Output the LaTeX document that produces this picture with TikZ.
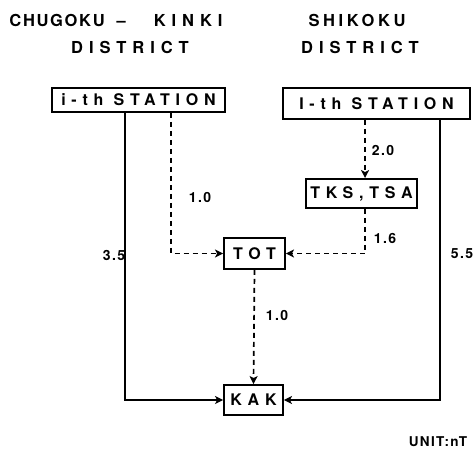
\documentclass[tikz,border=0pt]{standalone}
\usepackage{fontspec}
\setmainfont{TeX Gyre Heros}
\newfontfamily\spaced[LetterSpace=36]{TeX Gyre Heros}
\newfontfamily\midspaced[LetterSpace=22]{TeX Gyre Heros}
\newfontfamily\wide[LetterSpace=10]{TeX Gyre Heros}
\usetikzlibrary{arrows.meta}

\begin{document}
\begin{tikzpicture}[
  x=1pt, y=-1pt,
  heading/.style={font=\spaced\bfseries\fontsize{16.5}{19}\selectfont, inner sep=0pt},
  box/.style={draw, line width=1.9pt, inner sep=0pt, font=\spaced\bfseries\fontsize{16}{19}\selectfont},
  flow/.style={-{Stealth[length=8pt, width=8pt, inset=2pt]}, line width=1.3pt},
  dflow/.style={flow, line width=1.7pt, dash pattern=on 5pt off 4pt},
  value/.style={font=\wide\bfseries\fontsize{14}{16}\selectfont, inner sep=0pt}
]
  \useasboundingbox (0,0) rectangle (473,453);

  % district headings
  \node[heading, font=\wide\bfseries\fontsize{16.5}{19}\selectfont] (chugoku) at (116,20)
    {CHUGOKU\hspace{12pt}–\hspace{28pt}{\spaced KINKI}};
  \node[heading] (chugokud) at (130,47) {DISTRICT};
  \node[heading, font=\midspaced\bfseries\fontsize{16.5}{19}\selectfont] (shikoku) at (357,20) {SHIKOKU};
  \node[heading] (shikokud) at (360,47) {DISTRICT};

  % stations
  \node[box, minimum width=173pt, minimum height=24pt] (stleft) at (138.5,100) {i-th STATION};
  \node[box, minimum width=187pt, minimum height=31pt] (stright) at (376.5,103.5) {I-th STATION};
  \node[box, minimum width=111pt, minimum height=29pt] (tks) at (361.5,193.5) {TKS,TSA};
  \node[box, minimum width=61pt, minimum height=31pt] (tot) at (254.5,253.5) {TOT};
  \node[box, minimum width=59pt, minimum height=30pt] (kak) at (253.5,400) {KAK};

  % connectors
  \draw[flow] ([xshift=74pt]stleft.south west) |- (kak.west);
  \draw[dflow] ([xshift=120pt]stleft.south west) |- (tot.west);
  \draw[dflow] ([xshift=83pt]stright.south west) -- ([xshift=60pt]tks.north west);
  \draw[dflow] ([xshift=60pt]tks.south west) |- (tot.east);
  \draw[flow] ([xshift=158pt]stright.south west) |- (kak.east);
  \draw[dflow] (tot.south) -- (kak.north);

  % values
  \node[value] (vleft) at (200,197) {1.0};
  \node[value] (vsolidl) at (114,255) {3.5};
  \node[value] (vtks) at (383,150) {2.0};
  \node[value] (vtot) at (385,238) {1.6};
  \node[value] (vsolidr) at (462,254) {5.5};
  \node[value] (vkak) at (277,315) {1.0};
  \node[font=\wide\bfseries\fontsize{13.5}{15}\selectfont, inner sep=0pt] (unit) at (438,442) {UNIT:nT};
\end{tikzpicture}
\end{document}
